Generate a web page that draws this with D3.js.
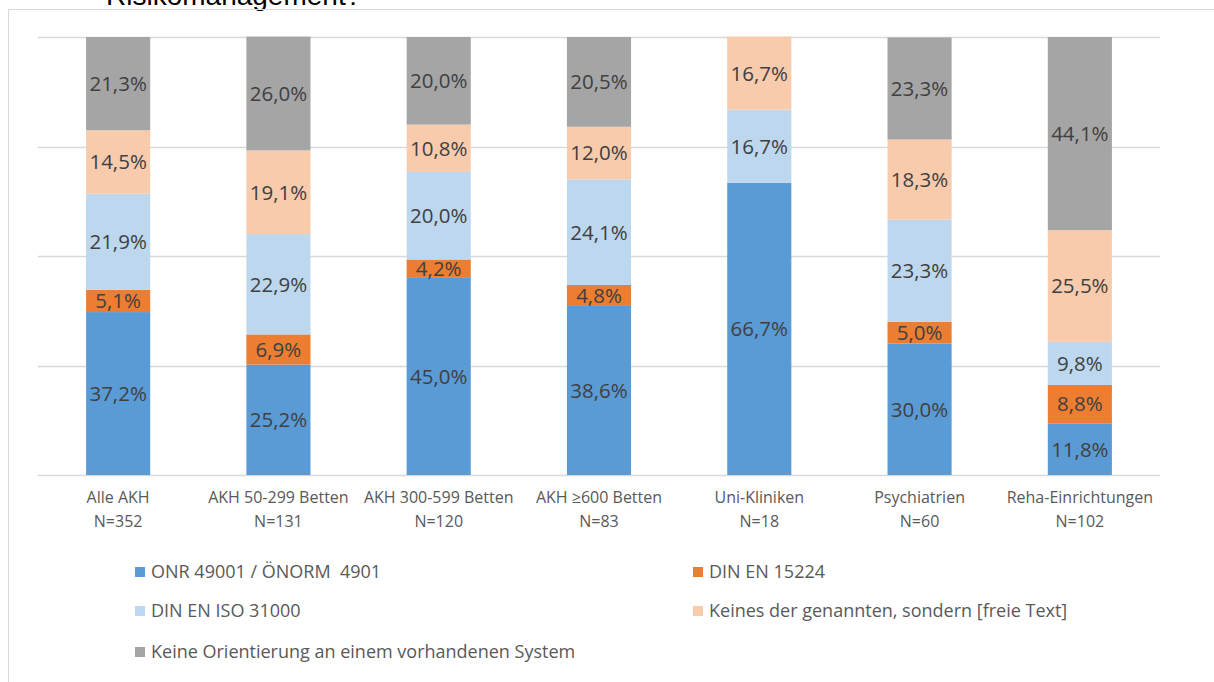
<!DOCTYPE html>
<html lang="de">
<head>
<meta charset="UTF-8">
<title>Risikomanagement</title>
<script src="https://d3js.org/d3.v7.min.js"></script>
<style>
  body { margin: 0; background: #fff; }
  svg { display: block; }
  .legend-text { white-space: pre; }
</style>
</head>
<body>
<svg id="chart" width="1214" height="682"></svg>
<script>
// Kategorien (zweizeilige Achsenbeschriftung)
const categories = ["Alle AKH", "AKH 50-299 Betten", "AKH 300-599 Betten", "AKH \u2265600 Betten", "Uni-Kliniken", "Psychiatrien", "Reha-Einrichtungen"];
const sampleSizes = ["N=352", "N=131", "N=120", "N=83", "N=18", "N=60", "N=102"];

// Werte in Prozent
const onr = [37.2, 25.2, 45.0, 38.6, 66.7, 30.0, 11.8];
const din15224 = [5.1, 6.9, 4.2, 4.8, 0, 5.0, 8.8];
const iso31000 = [21.9, 22.9, 20.0, 24.1, 16.7, 23.3, 9.8];
const keines = [14.5, 19.1, 10.8, 12.0, 16.7, 18.3, 25.5];
const keineOrientierung = [21.3, 26.0, 20.0, 20.5, 0, 23.3, 44.1];

const seriesNames = ["ONR 49001 / \u00D6NORM  4901", "DIN EN 15224", "DIN EN ISO 31000", "Keines der genannten, sondern [freie Text]", "Keine Orientierung an einem vorhandenen System"];
const yTicks = [0, 25, 50, 75, 100];

const colors = ["#5B9BD5", "#ED7D31", "#BDD7EE", "#F8CBAD", "#A5A5A5"];
const seriesData = [onr, din15224, iso31000, keines, keineOrientierung];
const keys = ["onr", "din15224", "iso31000", "keines", "keineOrientierung"];

const rows = categories.map((c, i) => {
  const r = { cat: c };
  keys.forEach((k, j) => r[k] = seriesData[j][i]);
  return r;
});

const svg = d3.select("#chart");
const font = "'Open Sans', sans-serif";
const margin = { top: 37, left: 38, right: 54, bottom: 207 };
const W = 1214, H = 682;

// Titel (oben abgeschnitten) und Rahmen
svg.append("text")
  .attr("x", 106).attr("y", 5)
  .attr("font-family", "'Liberation Sans', Arial, sans-serif")
  .attr("font-size", 28)
  .attr("fill", "#000")
  .text("Risikomanagement?");

svg.append("rect")
  .attr("x", 8.5).attr("y", 9.5)
  .attr("width", 1300).attr("height", 700)
  .attr("fill", "none").attr("stroke", "#D9D9D9");

const x = d3.scaleBand()
  .domain(categories)
  .range([margin.left, W - margin.right])
  .paddingInner(0.6).paddingOuter(0.3);

const y = d3.scaleLinear()
  .domain([0, 100])
  .range([H - margin.bottom, margin.top]);

// Gitterlinien
svg.append("g")
  .selectAll("line")
  .data(yTicks)
  .join("line")
  .attr("x1", margin.left).attr("x2", W - margin.right)
  .attr("y1", d => Math.round(y(d)) + 0.5).attr("y2", d => Math.round(y(d)) + 0.5)
  .attr("stroke", "#D9D9D9").attr("stroke-width", 1.5);

const stack = d3.stack().keys(keys);
const stacked = stack(rows);

const layers = svg.append("g")
  .selectAll("g")
  .data(stacked)
  .join("g")
  .attr("fill", (d, i) => colors[i]);

layers.selectAll("rect")
  .data(d => d)
  .join("rect")
  .attr("x", d => x(d.data.cat))
  .attr("width", x.bandwidth())
  .attr("y", d => y(d[1]))
  .attr("height", d => y(d[0]) - y(d[1]));

// Datenbeschriftungen
const labels = svg.append("g");
stacked.forEach(layer => {
  labels.selectAll(null)
    .data(layer.filter(d => d[1] - d[0] > 0))
    .join("text")
    .attr("x", d => x(d.data.cat) + x.bandwidth() / 2)
    .attr("y", d => (y(d[0]) + y(d[1])) / 2)
    .attr("dy", "0.36em")
    .attr("text-anchor", "middle")
    .attr("font-family", font)
    .attr("font-size", 20.5)
    .attr("fill", "#404040")
    .text(d => (d[1] - d[0]).toFixed(1).replace(".", ",") + "%");
});

// Kategorienachse
const xAxis = svg.append("g");
categories.forEach((c, i) => {
  const cx = x(c) + x.bandwidth() / 2;
  const t = xAxis.append("text")
    .attr("x", cx)
    .attr("y", 503)
    .attr("text-anchor", "middle")
    .attr("font-family", font)
    .attr("font-size", 16)
    .attr("fill", "#595959");
  t.append("tspan").attr("x", cx).text(c);
  t.append("tspan").attr("x", cx).attr("dy", 24).text(sampleSizes[i]);
});

// Legende
const legendPos = [[135, 572], [693, 572], [135, 611], [693, 611], [135, 652]];
const legend = svg.append("g")
  .selectAll("g")
  .data(seriesNames)
  .join("g")
  .attr("transform", (d, i) => `translate(${legendPos[i][0]},${legendPos[i][1]})`);

legend.append("rect")
  .attr("x", 0).attr("y", -5)
  .attr("width", 10).attr("height", 10)
  .attr("fill", (d, i) => colors[i]);

legend.append("text")
  .attr("class", "legend-text")
  .attr("x", 16).attr("dy", "0.36em")
  .attr("font-family", font)
  .attr("font-size", 18)
  .attr("fill", "#595959")
  .text(d => d);
</script>
</body>
</html>
